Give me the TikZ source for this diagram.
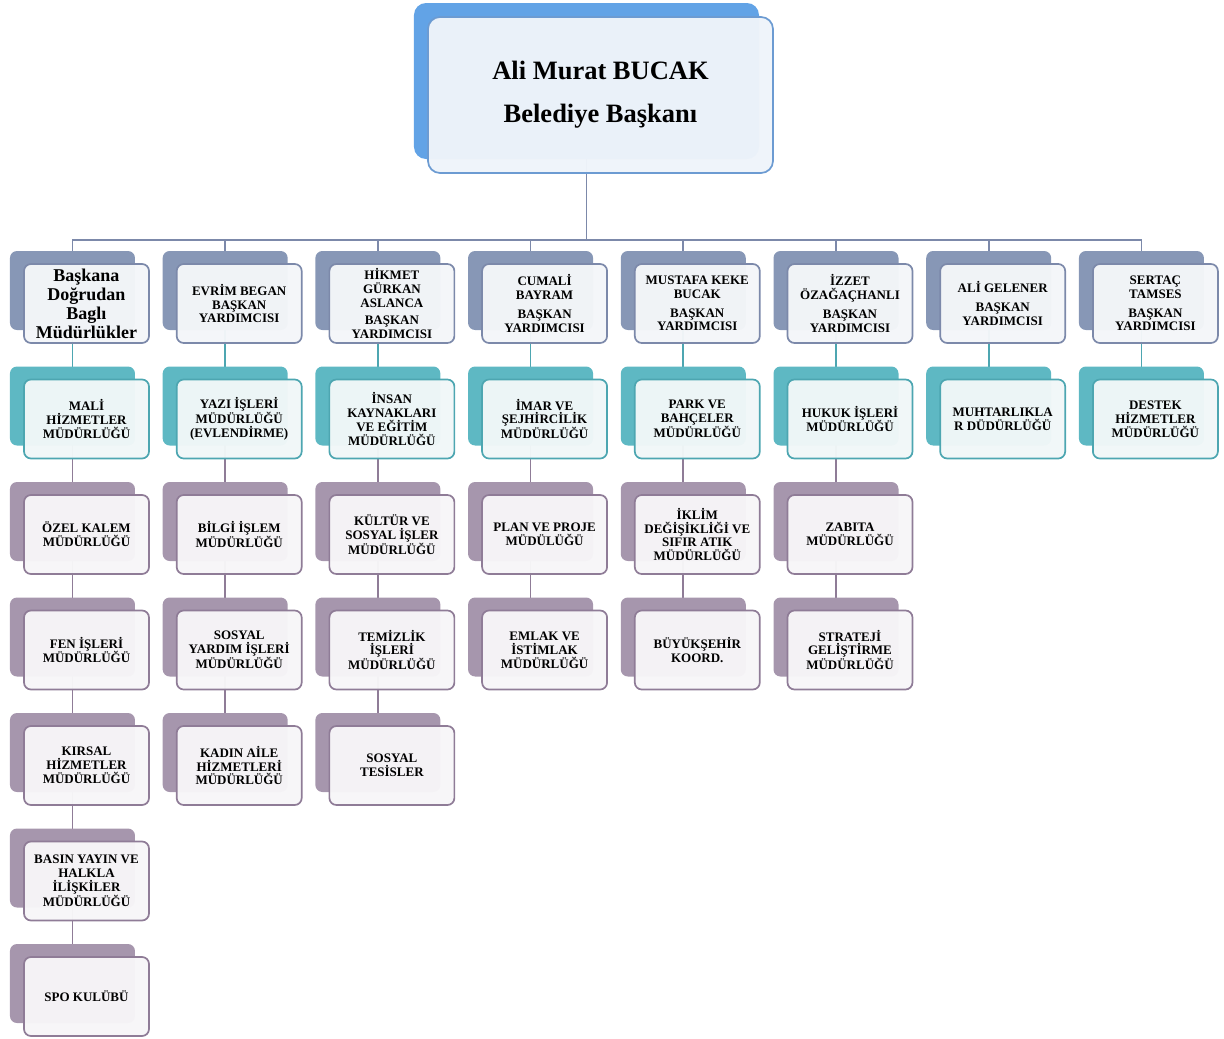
\documentclass[tikz,border=0pt]{standalone}
\usepackage{fontspec}
\setmainfont{Liberation Serif}
\usepackage{tikz}
\usetikzlibrary{calc,backgrounds,shadows,positioning}

\definecolor{mayorback}{HTML}{62A3E6}
\definecolor{mayorline}{HTML}{6C9BD2}
\definecolor{mayorfill}{HTML}{EFF4FA}
\definecolor{vipback}{HTML}{8797B6}
\definecolor{vipline}{HTML}{7C89AA}
\definecolor{vipfill}{HTML}{F4F6F9}
\definecolor{deptback}{HTML}{5EB8C3}
\definecolor{deptline}{HTML}{4DA6B1}
\definecolor{deptfill}{HTML}{F1F7F8}
\definecolor{subback}{HTML}{A696AD}
\definecolor{subline}{HTML}{8F7C97}
\definecolor{subfill}{HTML}{F7F6F8}

\newcommand{\unitfont}{\fontsize{13}{13.8}\selectfont\bfseries}

\tikzstyle{unit}=[
  draw, rounded corners=7pt, line width=1.7pt, minimum width=125pt, minimum height=79pt,
  inner sep=1pt, align=center, font=\unitfont, fill opacity=0.97, text opacity=1
]
\tikzstyle{mayorbox}=[
  unit, minimum width=345pt, minimum height=156pt, rounded corners=12pt, draw=mayorline, fill=mayorfill,
  font=\fontsize{26.5}{43}\selectfont\bfseries,
  general shadow={fill=mayorback, fill opacity=1, shadow xshift=-14pt, shadow yshift=14pt}
]
\tikzstyle{vipbox}=[
  unit, draw=vipline, fill=vipfill,
  general shadow={fill=vipback, fill opacity=1, shadow xshift=-14pt, shadow yshift=13pt}
]
\tikzstyle{deptbox}=[
  unit, draw=deptline, fill=deptfill,
  general shadow={fill=deptback, fill opacity=1, shadow xshift=-14pt, shadow yshift=13pt}
]
\tikzstyle{subbox}=[
  unit, draw=subline, fill=subfill,
  general shadow={fill=subback, fill opacity=1, shadow xshift=-14pt, shadow yshift=13pt}
]
\tikzstyle{busline}=[
  line width=1.8pt, draw=vipline
]
\tikzstyle{deptlink}=[
  line width=1.8pt, draw=deptline
]
\tikzstyle{sublink}=[
  line width=1.8pt, draw=subline
]

\begin{document}
\begin{tikzpicture}
  \def\col{152.7pt}
  \def\lvl{115.5pt}
  \useasboundingbox (-600.5pt,95pt) rectangle (623.5pt,-944pt);

  \node (mayor) at (0,0) [mayorbox] {Ali Murat BUCAK\\Belediye Başkanı};

  \node (dir) at ($(mayor) + (-514pt, -208.5pt)$) [vipbox, font=\fontsize{18}{19}\selectfont\bfseries] {Başkana\\Doğrudan\\Baglı\\Müdürlükler};
  \node (vp1) at ($(dir) + (\col, 0)$) [vipbox] {EVRİM BEGAN\\BAŞKAN\\YARDIMCISI};
  \node (vp2) at ($(vp1) + (\col, 0)$) [vipbox] {HİKMET\\GÜRKAN\\ASLANCA\\[4pt]BAŞKAN\\YARDIMCISI};
  \node (vp3) at ($(vp2) + (\col, 0)$) [vipbox] {CUMALİ\\BAYRAM\\[5pt]BAŞKAN\\YARDIMCISI};
  \node (vp4) at ($(vp3) + (\col, 0)$) [vipbox] {MUSTAFA KEKE\\BUCAK\\[5pt]BAŞKAN\\YARDIMCISI};
  \node (vp5) at ($(vp4) + (\col, 0)$) [vipbox] {İZZET\\ÖZAĞAÇHANLI\\[5pt]BAŞKAN\\YARDIMCISI};
  \node (vp6) at ($(vp5) + (\col, 0)$) [vipbox] {ALİ GELENER\\[5pt]BAŞKAN\\YARDIMCISI};
  \node (vp7) at ($(vp6) + (\col, 0)$) [vipbox] {SERTAÇ\\TAMSES\\[5pt]BAŞKAN\\YARDIMCISI};

  \node (mali) at ($(dir) + (0, -\lvl)$) [deptbox] {MALİ\\HİZMETLER\\MÜDÜRLÜĞÜ};
  \node (yazi) at ($(vp1) + (0, -\lvl)$) [deptbox] {YAZI İŞLERİ\\MÜDÜRLÜĞÜ\\(EVLENDİRME)};
  \node (insan) at ($(vp2) + (0, -\lvl)$) [deptbox] {İNSAN\\KAYNAKLARI\\VE EĞİTİM\\MÜDÜRLÜĞÜ};
  \node (imar) at ($(vp3) + (0, -\lvl)$) [deptbox] {İMAR VE\\ŞEJHİRCİLİK\\MÜDÜRLÜĞÜ};
  \node (park) at ($(vp4) + (0, -\lvl)$) [deptbox] {PARK VE\\BAHÇELER\\MÜDÜRLÜĞÜ};
  \node (hukuk) at ($(vp5) + (0, -\lvl)$) [deptbox] {HUKUK İŞLERİ\\MÜDÜRLÜĞÜ};
  \node (muhtar) at ($(vp6) + (0, -\lvl)$) [deptbox] {MUHTARLIKLA\\R DÜDÜRLÜĞÜ};
  \node (destek) at ($(vp7) + (0, -\lvl)$) [deptbox] {DESTEK\\HİZMETLER\\MÜDÜRLÜĞÜ};

  \node (ozel) at ($(mali) + (0, -\lvl)$) [subbox] {ÖZEL KALEM\\MÜDÜRLÜĞÜ};
  \node (fen) at ($(ozel) + (0, -\lvl)$) [subbox] {FEN İŞLERİ\\MÜDÜRLÜĞÜ};
  \node (kirsal) at ($(fen) + (0, -\lvl)$) [subbox] {KIRSAL\\HİZMETLER\\MÜDÜRLÜĞÜ};
  \node (basin) at ($(kirsal) + (0, -\lvl)$) [subbox] {BASIN YAYIN VE\\HALKLA\\İLİŞKİLER\\MÜDÜRLÜĞÜ};
  \node (spor) at ($(basin) + (0, -\lvl)$) [subbox] {SPO KULÜBÜ};

  \node (bilgi) at ($(yazi) + (0, -\lvl)$) [subbox] {BİLGİ İŞLEM\\MÜDÜRLÜĞÜ};
  \node (yardim) at ($(bilgi) + (0, -\lvl)$) [subbox] {SOSYAL\\YARDIM İŞLERİ\\MÜDÜRLÜĞÜ};
  \node (kadin) at ($(yardim) + (0, -\lvl)$) [subbox] {KADIN AİLE\\HİZMETLERİ\\MÜDÜRLÜĞÜ};

  \node (kultur) at ($(insan) + (0, -\lvl)$) [subbox] {KÜLTÜR VE\\SOSYAL İŞLER\\MÜDÜRLÜĞÜ};
  \node (temiz) at ($(kultur) + (0, -\lvl)$) [subbox] {TEMİZLİK\\İŞLERİ\\MÜDÜRLÜĞÜ};
  \node (tesis) at ($(temiz) + (0, -\lvl)$) [subbox] {SOSYAL\\TESİSLER};

  \node (plan) at ($(imar) + (0, -\lvl)$) [subbox] {PLAN VE PROJE\\MÜDÜLÜĞÜ};
  \node (emlak) at ($(plan) + (0, -\lvl)$) [subbox] {EMLAK VE\\İSTİMLAK\\MÜDÜRLÜĞÜ};

  \node (iklim) at ($(park) + (0, -\lvl)$) [subbox] {İKLİM\\DEĞİŞİKLİĞİ VE\\SIFIR ATIK\\MÜDÜRLÜĞÜ};
  \node (bsehir) at ($(iklim) + (0, -\lvl)$) [subbox] {BÜYÜKŞEHİR\\KOORD.};

  \node (zabita) at ($(hukuk) + (0, -\lvl)$) [subbox] {ZABITA\\MÜDÜRLÜĞÜ};
  \node (strateji) at ($(zabita) + (0, -\lvl)$) [subbox] {STRATEJİ\\GELİŞTİRME\\MÜDÜRLÜĞÜ};

  \coordinate (bus) at ($(mayor) + (-14pt, -145pt)$);

  \begin{scope}[on background layer]
    \draw [busline] ([xshift=-14pt]mayor.center) -- (bus);
    \foreach \n in {dir,vp1,vp2,vp3,vp4,vp5,vp6,vp7}
      \draw [busline] (bus) -| ([xshift=-14pt]\n.center);
    \foreach \a/\b in {dir/mali,vp1/yazi,vp2/insan,vp3/imar,vp4/park,vp5/hukuk,vp6/muhtar,vp7/destek}
      \draw [deptlink] ([xshift=-14pt]\a.center) -- ([xshift=-14pt]\b.center);
    \foreach \a/\b in {mali/ozel,ozel/fen,fen/kirsal,kirsal/basin,basin/spor,
                       yazi/bilgi,bilgi/yardim,yardim/kadin,
                       insan/kultur,kultur/temiz,temiz/tesis,
                       imar/plan,plan/emlak,park/iklim,iklim/bsehir,
                       hukuk/zabita,zabita/strateji}
      \draw [sublink] ([xshift=-14pt]\a.center) -- ([xshift=-14pt]\b.center);
  \end{scope}
\end{tikzpicture}
\end{document}
